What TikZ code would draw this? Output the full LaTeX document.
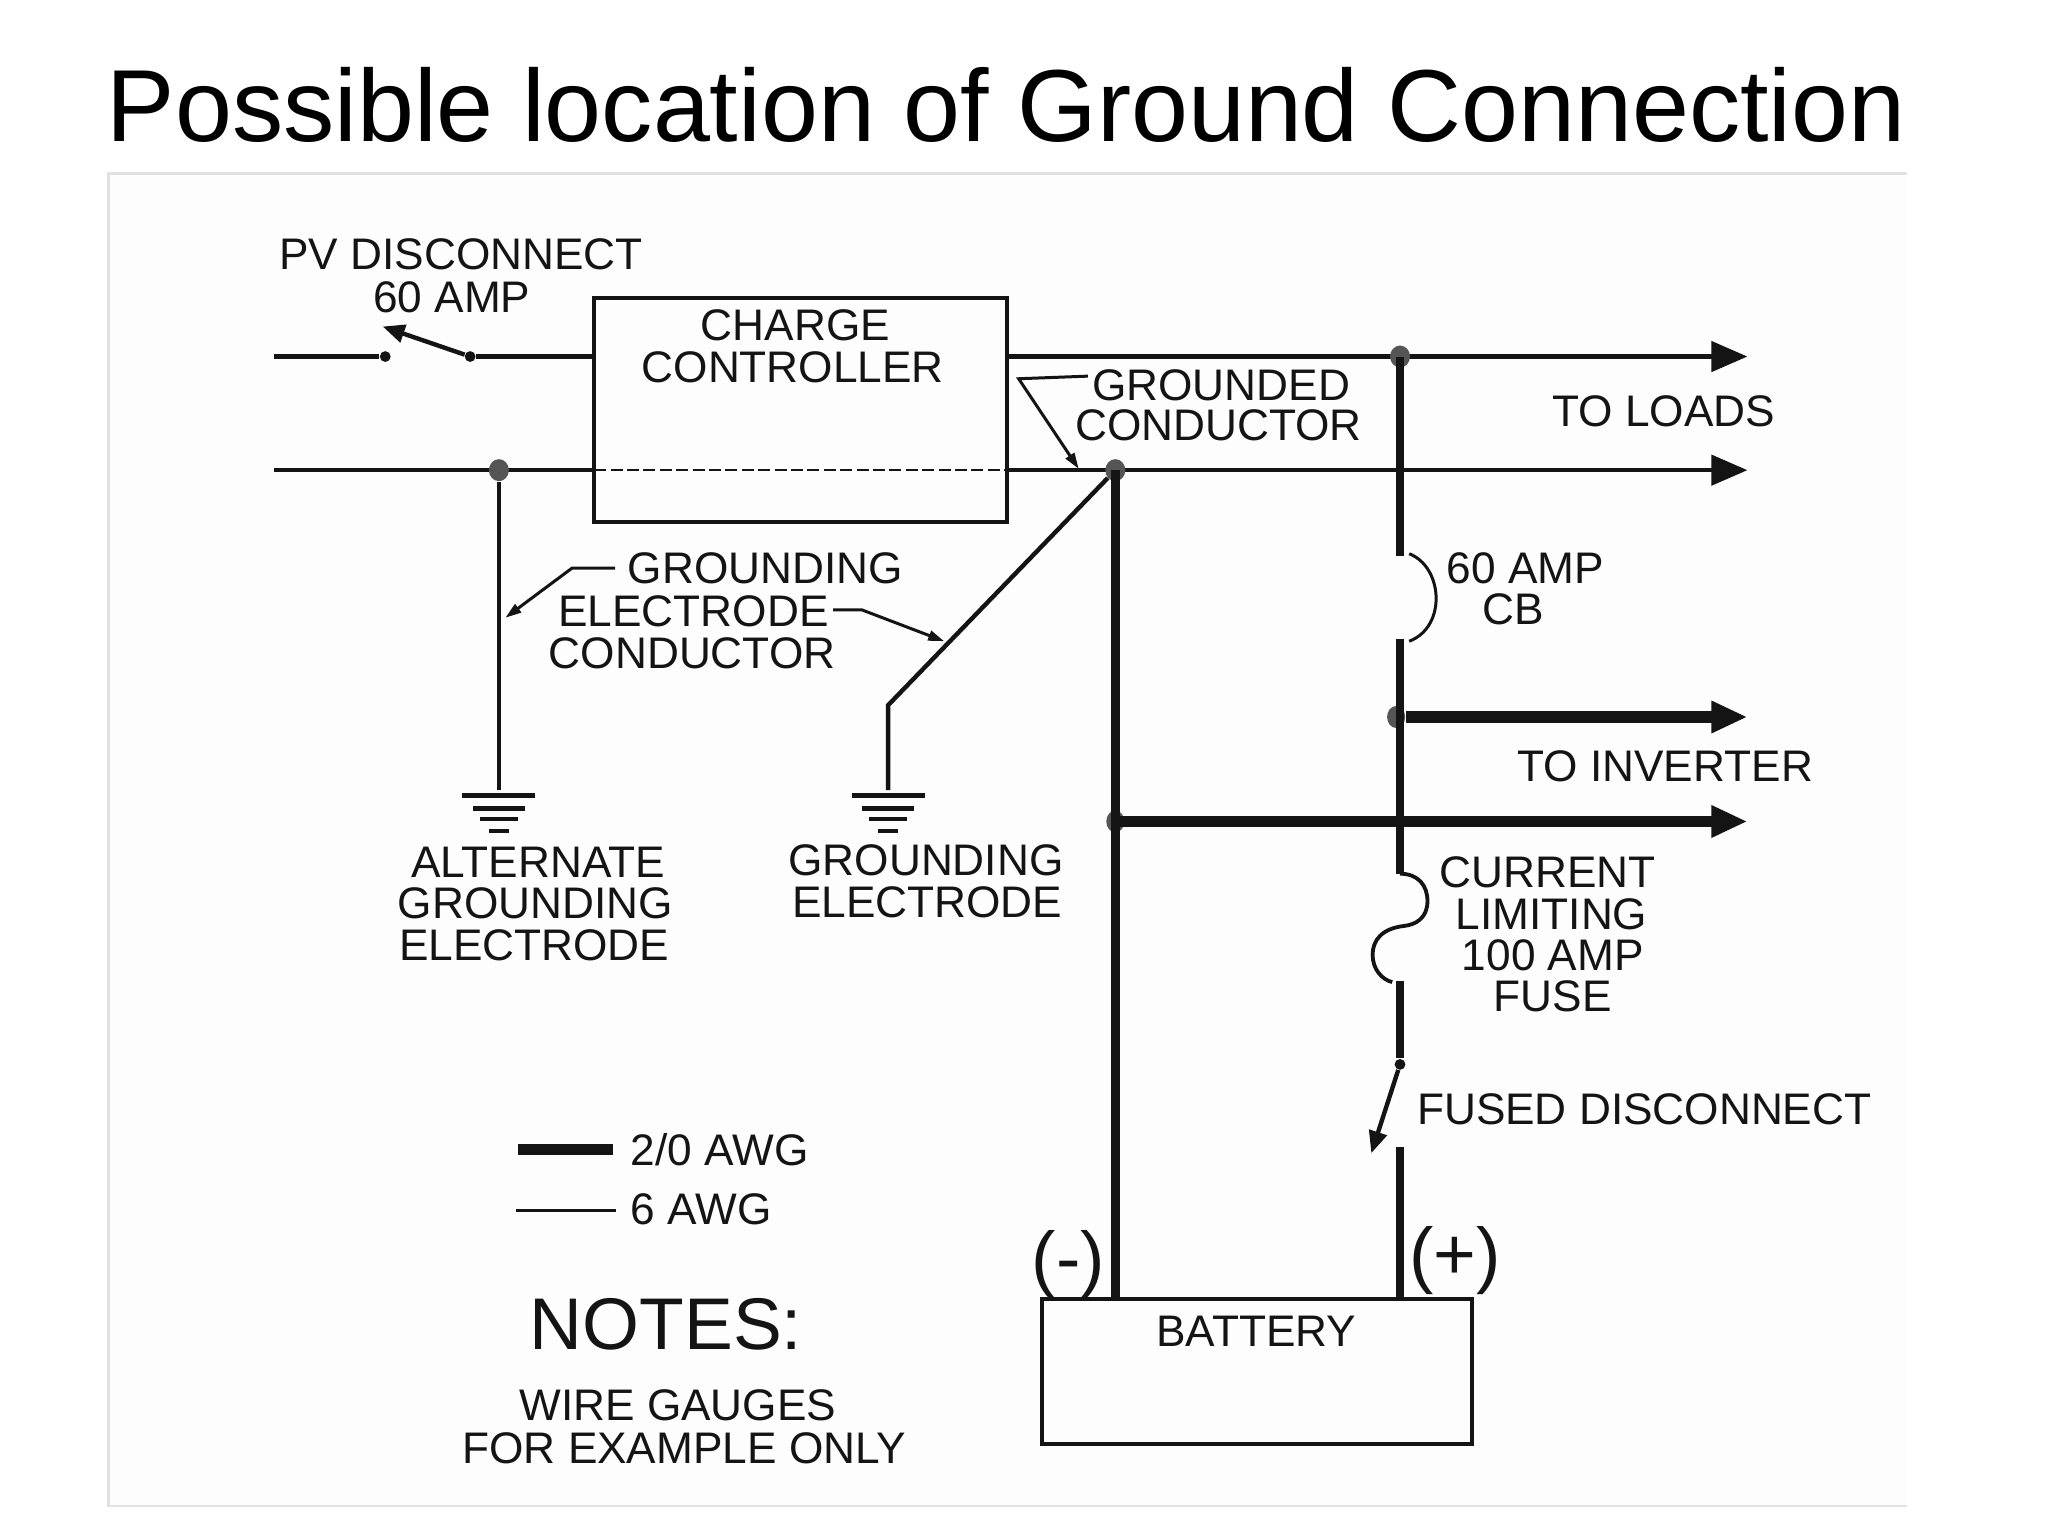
\documentclass[tikz,border=0pt]{standalone}
\usepackage{fontspec}
\setmainfont{Liberation Sans}
\usetikzlibrary{arrows.meta,calc,shapes.geometric}
\definecolor{ink}{HTML}{141414}
\definecolor{dotc}{HTML}{555555}
\definecolor{panel}{HTML}{FDFDFD}
\definecolor{edge}{HTML}{E2E2E2}
\tikzset{
  wireline/.style={line width=2.2pt,color=ink},
  thinv/.style={line width=1.9pt,color=ink},
  heavy/.style={line width=4.4pt,color=ink},
  heavier/.style={line width=5.2pt,color=ink},
  fine/.style={line width=1.5pt,color=ink},
  bigtip/.style={-{Triangle[length=18pt,width=15pt]}},
  smalltip/.style={-{Triangle[length=8pt,width=5pt]}},
  midtip/.style={-{Triangle[length=11pt,width=9pt]}},
  lab/.style={inner sep=0pt,text=ink,font=\fontsize{22.1}{24}\selectfont},
  biglab/.style={inner sep=0pt,text=ink,font=\fontsize{36.6}{40}\selectfont},
  box/.style={draw=ink,line width=2pt,fill=none,inner sep=0pt,outer sep=0pt,anchor=north west},
  junction/.style={fill=dotc,draw=none,ellipse,inner sep=0pt,minimum width=10pt,minimum height=11pt},
  pin/.style={fill=ink,draw=none,circle,inner sep=0pt,minimum size=5.4pt},
}
\begin{document}
\begin{tikzpicture}[x=0.653pt,y=-0.653pt]
\useasboundingbox (0,0) rectangle (1568.16,1176);
\fill[white] (0,0) rectangle (1568.16,1176);
% panel
\fill[panel] (83,133) rectangle (1460,1153);
\draw[edge,line width=1.3pt] (1460,133) -- (83,133) -- (83,1153) -- (1460,1153);
% title
\node[inner sep=0pt,anchor=base west,text=black,font=\fontsize{51.2}{60}\selectfont] (title) at (81.5,108) {Possible location of Ground Connection};
% boxes
\node[box,minimum width=206.4pt,minimum height=112.3pt] (cc) at (455,228) {};
\node[box,minimum width=214.8pt,minimum height=72.5pt] (bat) at (798,995) {};
% named points
\coordinate (inA) at (210,273);
\coordinate (inB) at (210,360);
\coordinate (outA) at (1338,273);
\coordinate (outB) at (1338,360);
\coordinate (outC) at (1338,549);
\coordinate (outD) at (1338,629);
\coordinate (swTip) at (293,250);
\coordinate (g1top) at (382,605);
\coordinate (g2top) at (680,605);
\coordinate (g2bend) at (680,540);
\coordinate (cbA) at (1072,426);
\coordinate (cbB) at (1072,489);
\coordinate (fuA) at (1072,669);
\coordinate (fuB) at (1072,751);
\coordinate (fuC) at (1072,810);
\coordinate (fdTip) at (1050,883);
\coordinate (fdD) at (1072,878);
% junctions & pins
\node[pin] (sw1) at (295,273) {};
\node[pin] (sw2) at (360,273) {};
\node[pin] (fd1) at (1072,815) {};
% wires: top line
\draw[wireline] (inA) -- (sw1);
\draw[wireline] (sw2) -- (sw2 -| cc.west);
\draw[wireline,midtip] (sw2) -- (swTip);
\draw[wireline,bigtip] (cc.east |- outA) -- (outA);
% second line
\draw[wireline] (inB) -- (inB -| cc.west);
\draw[ink,line width=1pt,dash pattern=on 6pt off 2.2pt] (inB -| cc.west) -- (inB -| cc.east);
\draw[wireline,bigtip] (inB -| cc.east) -- (outB);
% alternate electrode
\node[junction] (jA) at (382,360) {};
\draw[thinv] (jA) -- (g1top);
% main ground junction
\node[junction] (jB) at (854,360) {};
\node[junction,minimum width=9pt,minimum height=11pt] (jC) at (854,629) {};
\draw[wireline] (jB) -- (g2bend) -- (g2top);
\draw[heavy] (jB.center) -- (jB.center |- bat.north);
\draw[heavier,bigtip] (jC.center) -- (outD);
% positive
\node[junction] (jD) at (1072,273) {};
\node[junction,minimum width=9pt,minimum height=11pt] (jE) at (1069,549) {};
\draw[heavy] (jD.center) -- (cbA);
\draw[heavy] (cbB) -- (fuA);
\draw[line width=6.2pt,color=ink,bigtip] (jE.east) -- (outC);
\draw[fine] (1079,424) .. controls (1105,434) and (1108,480) .. (1079,491);
\draw[line width=1.9pt,color=ink] (fuA) .. controls (1086,669) and (1093,678) .. (1093,690) .. controls (1093,703) and (1084,708) .. (1075,709) .. controls (1058,711) and (1051,720) .. (1051,731) .. controls (1051,742) and (1058,750) .. (1066,752);
\draw[heavy] (fuB) -- (fuC);
\draw[wireline,midtip] (fd1) -- (fdTip);
\draw[heavy] (fdD) -- (fdD |- bat.north);
% grounds
\foreach \c in {g1top,g2top}{
  \draw[line width=2.4pt,color=ink] ($(\c)+(-28,4)$) -- ($(\c)+(28,4)$);
  \draw[line width=2.2pt,color=ink] ($(\c)+(-20,14)$) -- ($(\c)+(20,14)$);
  \draw[line width=2pt,color=ink] ($(\c)+(-14.5,22)$) -- ($(\c)+(14.5,22)$);
  \draw[line width=2pt,color=ink] ($(\c)+(-7.5,31)$) -- ($(\c)+(7.5,31)$);
}
% leaders
\coordinate (lg1) at (833,288);
\coordinate (lg2) at (780,290);
\coordinate (lg3) at (826,359);
\draw[fine,smalltip] (lg1) -- (lg2) -- (lg3);
\coordinate (le1) at (471,435);
\coordinate (le2) at (438,435);
\coordinate (le3) at (387,473);
\draw[fine,smalltip] (le1) -- (le2) -- (le3);
\coordinate (lf1) at (638,467);
\coordinate (lf2) at (660,467);
\coordinate (lf3) at (723,491);
\draw[fine,smalltip] (lf1) -- (lf2) -- (lf3);
% legend
\coordinate (ka) at (397,880);
\coordinate (kb) at (469,880);
\coordinate (kc) at (395,927);
\coordinate (kd) at (472,927);
\draw[line width=5.4pt,color=ink] (ka) -- (kb);
\draw[line width=1.5pt,color=ink] (kc) -- (kd);
% labels
\node[lab] (t1) at (353,195) {PV DISCONNECT};
\node[lab] (t2) at (346,228) {60 AMP};
\node[lab] (t3) at (609,249) {CHARGE};
\node[lab] (t4) at (607,281) {CONTROLLER};
\node[lab] (t5) at (935,295) {GROUNDED};
\node[lab] (t6) at (933,326) {CONDUCTOR};
\node[lab] (t7) at (1274,315) {TO LOADS};
\node[lab] (t8) at (1168,435.5) {60 AMP};
\node[lab] (t9) at (1159,466.5) {CB};
\node[lab] (t10) at (586,435) {GROUNDING};
\node[lab] (t11) at (531,468) {ELECTRODE};
\node[lab] (t12) at (530,500) {CONDUCTOR};
\node[lab] (t13) at (1275,587) {TO INVERTER};
\node[lab] (t14) at (412,660) {ALTERNATE};
\node[lab] (t15) at (410,692) {GROUNDING};
\node[lab] (t16) at (409,724) {ELECTRODE};
\node[lab] (t17) at (709,659) {GROUNDING};
\node[lab] (t18) at (710,691) {ELECTRODE};
\node[lab] (t19) at (1185,668) {CURRENT};
\node[lab] (t20) at (1188,700) {LIMITING};
\node[lab] (t21) at (1189,731.5) {100 AMP};
\node[lab] (t22) at (1189,762.5) {FUSE};
\node[lab] (t23) at (1259,849) {FUSED DISCONNECT};
\node[lab] (t24) at (551,880) {2/0 AWG};
\node[lab] (t25) at (537,926) {6 AWG};
\node[lab] (t26) at (962,1019) {BATTERY};
\node[lab] (t27) at (519,1076) {WIRE GAUGES};
\node[lab] (t28) at (524,1109) {FOR EXAMPLE ONLY};
\node[biglab] (t29) at (510,1014) {NOTES:};
\node[biglab] (t30) at (818,968) {(-)};
\node[biglab] (t31) at (1114,965) {(+)};
\end{tikzpicture}
\end{document}
